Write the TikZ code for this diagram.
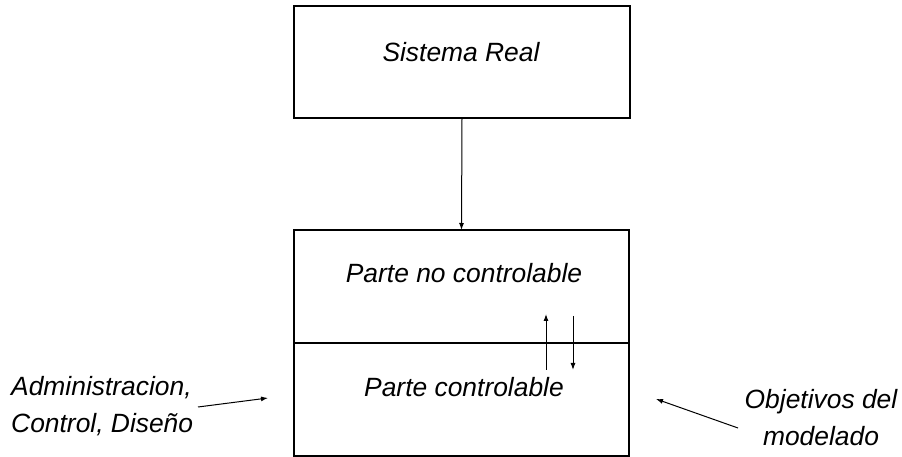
\documentclass[tikz,border=0pt]{standalone}
\usepackage{fontspec}
\setmainfont{Liberation Sans}
\usetikzlibrary{arrows.meta}
\begin{document}
\begin{tikzpicture}[x=1bp,y=-1bp,
  frame/.style={draw,line width=1.3bp,inner sep=0pt,outer sep=0pt},
  lbl/.style={font=\fontsize{26.5}{37}\selectfont\itshape,inner sep=0pt},
  link/.style={line width=1bp,-{Latex[length=7bp,width=5bp]}}]
  \useasboundingbox (0,0) rectangle (902,457);
  % boxes
  \node[frame,minimum width=336bp,minimum height=112bp] (real) at (462,62) {};
  \node[frame,minimum width=335bp,minimum height=113bp] (nocon) at (461.5,286.5) {};
  \node[frame,minimum width=335bp,minimum height=113bp] (con) at (461.5,399.5) {};
  % labels
  \node[lbl,anchor=base] (treal) at (461,62) {Sistema Real};
  \node[lbl,anchor=base] (tnocon) at (464,283) {Parte no controlable};
  \node[lbl,anchor=base] (tcon) at (464,396) {Parte controlable};
  \node[lbl,align=left,anchor=north west] (adm) at (11,376) {Administracion,\\Control, Diseño};
  \node[lbl,align=center] (obj) at (821,418) {Objetivos del\\modelado};
  % connectors
  \draw[link] (real.south) -- (nocon.north);
  \coordinate (upS) at (546,370);
  \coordinate (upE) at (546,314);
  \coordinate (dnS) at (573,316);
  \coordinate (dnE) at (573,370);
  \draw[link] (upS) -- (upE);
  \draw[link] (dnS) -- (dnE);
  \coordinate (admS) at (198,407);
  \coordinate (admE) at (268,398);
  \draw[link] (admS) -- (admE);
  \coordinate (objS) at (738,428);
  \coordinate (objE) at (656,399);
  \draw[link] (objS) -- (objE);
\end{tikzpicture}
\end{document}
